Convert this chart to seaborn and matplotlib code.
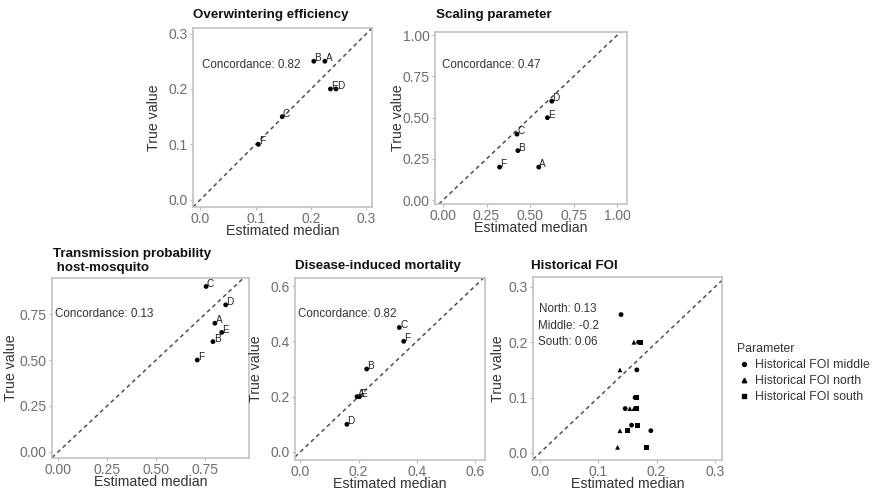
import numpy as np
import pandas as pd
import matplotlib
matplotlib.use("Agg")
import matplotlib.pyplot as plt
import seaborn as sns
from matplotlib.lines import Line2D

sns.set_theme(style="white")
plt.rcParams["font.family"] = ["Liberation Sans", "DejaVu Sans"]

# ---------------- data ----------------
scenarios = ["A", "B", "C", "D", "E", "F"]

ow_est = [0.225, 0.205, 0.148, 0.245, 0.235, 0.105]
ow_true = [0.25, 0.25, 0.15, 0.20, 0.20, 0.10]
ow_conc = "Concordance: 0.82"

sc_est = [0.55, 0.43, 0.425, 0.625, 0.60, 0.325]
sc_true = [0.20, 0.30, 0.40, 0.60, 0.50, 0.20]
sc_conc = "Concordance: 0.47"

tp_est = [0.80, 0.79, 0.755, 0.855, 0.835, 0.71]
tp_true = [0.70, 0.60, 0.90, 0.80, 0.65, 0.50]
tp_conc = "Concordance: 0.13"

dm_est = [0.195, 0.228, 0.34, 0.16, 0.203, 0.355]
dm_true = [0.20, 0.30, 0.45, 0.10, 0.20, 0.40]
dm_conc = "Concordance: 0.82"

foi_middle_est = [0.139, 0.169, 0.166, 0.163, 0.146, 0.157, 0.190]
foi_middle_true = [0.25, 0.20, 0.15, 0.10, 0.08, 0.05, 0.04]
foi_north_est = [0.161, 0.137, 0.154, 0.161, 0.137, 0.133]
foi_north_true = [0.20, 0.15, 0.08, 0.08, 0.04, 0.01]
foi_south_est = [0.173, 0.166, 0.165, 0.167, 0.150, 0.182]
foi_south_true = [0.20, 0.10, 0.08, 0.05, 0.04, 0.01]
foi_conc = ["North: 0.13", "Middle: -0.2", "South: 0.06"]
foi_names = ["Historical FOI middle", "Historical FOI north", "Historical FOI south"]

# ---------------- figure ----------------
W, H = 874, 493
fig = plt.figure(figsize=(W / 100, H / 100), dpi=100)
fig.patch.set_facecolor("white")

TICK_C = "#6E6E6E"
AX_C = "#BDBDBD"
TXT_C = "#333333"


def px_axes(l, t, r, b):
    return fig.add_axes([l / W, 1 - b / H, (r - l) / W, (b - t) / H])


def style(ax, xlim, ylim, ticks_x, ticks_y, fmt, ylab_px, box):
    ax.set_xlim(*xlim)
    ax.set_ylim(*ylim)
    ax.set_xticks(ticks_x)
    ax.set_yticks(ticks_y)
    ax.set_xticklabels([fmt.format(v) for v in ticks_x])
    ax.set_yticklabels([fmt.format(v) for v in ticks_y])
    ax.grid(False)
    for s in ax.spines.values():
        s.set_color(AX_C)
        s.set_linewidth(1.1)
    ax.tick_params(axis="both", which="both", length=2.5, width=0.8,
                   color=AX_C, labelcolor=TICK_C, labelsize=10, pad=1.2,
                   bottom=True, left=True)
    ax.set_xlabel("Estimated median", fontsize=10.2, color=TXT_C, labelpad=-1.2)
    ax.set_ylabel("True value", fontsize=10.2, color=TXT_C)
    l, t, r, b = box
    # the y-label anchor sits on the right edge of the rotated text
    ax.yaxis.set_label_coords((ylab_px + 6.5 - l) / (r - l), 0.5)
    ax.axline((0, 0), slope=1, color="#505050", lw=1.1, ls=(0, (2.6, 2.2)), zorder=1)


def letters(ax, xs, ys):
    for lab, x, y in zip(scenarios, xs, ys):
        ax.annotate(lab, (x, y), xytext=(0.5, -1.5), textcoords="offset points",
                    ha="left", va="bottom", fontsize=7.2, color="#222222")


def scatter(ax, xs, ys):
    df = pd.DataFrame({"est": xs, "true": ys})
    sns.scatterplot(data=df, x="est", y="true", ax=ax, color="black", s=12,
                    edgecolor="none", zorder=3, legend=False)


def title(x, y, text):
    fig.text(x / W, 1 - y / H, text, fontsize=9.6, fontweight="bold",
             color="#111111", ha="left", va="center")


# Panel 1: overwintering efficiency
box1 = (193, 28, 372, 207)
ax1 = px_axes(*box1)
scatter(ax1, ow_est, ow_true)
letters(ax1, ow_est, ow_true)
style(ax1, (-0.013, 0.31), (-0.013, 0.31), [0, 0.1, 0.2, 0.3], [0, 0.1, 0.2, 0.3],
      "{:.1f}", 155, box1)
ax1.text(0.092, 0.243, ow_conc, ha="center", va="center", fontsize=8.4, color=TXT_C)
title(193, 15, "Overwintering efficiency")

# Panel 2: scaling parameter
box2 = (435, 32, 627, 204)
ax2 = px_axes(*box2)
scatter(ax2, sc_est, sc_true)
letters(ax2, sc_est, sc_true)
style(ax2, (-0.046, 1.057), (-0.024, 1.02), [0, 0.25, 0.5, 0.75, 1.0],
      [0, 0.25, 0.5, 0.75, 1.0], "{:.2f}", 398, box2)
ax2.text(0.28, 0.82, sc_conc, ha="center", va="center", fontsize=8.4, color=TXT_C)
title(436, 15, "Scaling parameter")

# Panel 3: transmission probability host-mosquito
box3 = (52, 278, 249, 458)
ax3 = px_axes(*box3)
scatter(ax3, tp_est, tp_true)
letters(ax3, tp_est, tp_true)
style(ax3, (-0.031, 0.974), (-0.033, 0.946), [0, 0.25, 0.5, 0.75],
      [0, 0.25, 0.5, 0.75], "{:.2f}", 12, box3)
ax3.text(0.235, 0.75, tp_conc, ha="center", va="center", fontsize=8.4, color=TXT_C)
fig.text(53 / W, 1 - 261 / H, "Transmission probability\n host-mosquito", fontsize=9.6,
         fontweight="bold", color="#111111", ha="left", va="center", linespacing=1.15)

# Panel 4: disease-induced mortality
box4 = (295, 278, 485, 460)
ax4 = px_axes(*box4)
scatter(ax4, dm_est, dm_true)
letters(ax4, dm_est, dm_true)
style(ax4, (-0.018, 0.634), (-0.029, 0.629), [0, 0.2, 0.4, 0.6], [0, 0.2, 0.4, 0.6],
      "{:.1f}", 257, box4)
ax4.text(0.16, 0.50, dm_conc, ha="center", va="center", fontsize=8.4, color=TXT_C)
title(295, 266.5, "Disease-induced mortality")

# Panel 5: historical force of infection, three regions
box5 = (533, 277, 722, 460)
ax5 = px_axes(*box5)
foi = pd.concat([
    pd.DataFrame({"est": foi_middle_est, "true": foi_middle_true, "Parameter": foi_names[0]}),
    pd.DataFrame({"est": foi_north_est, "true": foi_north_true, "Parameter": foi_names[1]}),
    pd.DataFrame({"est": foi_south_est, "true": foi_south_true, "Parameter": foi_names[2]}),
], ignore_index=True)
marker_map = {foi_names[0]: "o", foi_names[1]: "^", foi_names[2]: "s"}
sns.scatterplot(data=foi, x="est", y="true", style="Parameter", markers=marker_map,
                color="black", s=12, edgecolor="none", ax=ax5, zorder=3, legend=False)
style(ax5, (-0.012, 0.312), (-0.013, 0.318), [0, 0.1, 0.2, 0.3], [0, 0.1, 0.2, 0.3],
      "{:.1f}", 498, box5)
for txt, yv in zip(foi_conc, [0.26, 0.23, 0.20]):
    ax5.text(0.048, yv, txt, ha="center", va="center", fontsize=8.4, color=TXT_C)
title(531, 266, "Historical FOI")

# Legend for the FOI regions
handles = [Line2D([], [], ls="none", marker=marker_map[n], color="black",
                  markersize=2.8 if n != foi_names[1] else 3.2) for n in foi_names]
leg = fig.legend(handles, foi_names, title="Parameter", loc="upper left",
                 bbox_to_anchor=(728 / W, 1 - 334 / H), frameon=False,
                 fontsize=8.8, title_fontsize=8.8, handletextpad=0.3,
                 handlelength=1.2, labelspacing=0.35, borderpad=0.2)
leg._legend_box.align = "left"
for t in leg.get_texts():
    t.set_color(TXT_C)
leg.get_title().set_color(TXT_C)

fig.savefig("out.png", dpi=100, facecolor="white")
